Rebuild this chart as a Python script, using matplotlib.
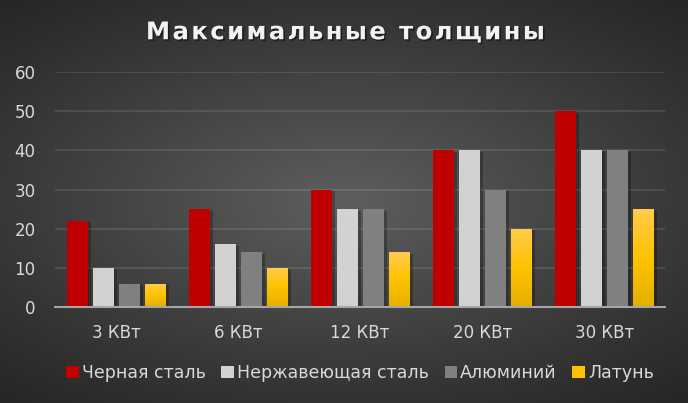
import numpy as np
import matplotlib.pyplot as plt
import matplotlib.patheffects as pe

# data
categories = ["3 КВт", "6 КВт", "12 КВт", "20 КВт", "30 КВт"]
series_names = ["Черная сталь", "Нержавеющая сталь", "Алюминий", "Латунь"]
black_steel = [22, 25, 30, 40, 50]
stainless = [10, 16, 25, 40, 40]
aluminium = [6, 14, 25, 30, 40]
brass = [6, 10, 14, 20, 25]
y_ticks = [0, 10, 20, 30, 40, 50, 60]

colors = ["#c00000", "#d3d1d2", "#808080", "#ffc000"]
text_col = "#d9d9d9"

plt.rcParams['font.family'] = ['DejaVu Sans']

fig = plt.figure(figsize=(6.88, 4.03), dpi=100)

# radial background gradient, light in the middle, dark in the corners
bg = fig.add_axes([0, 0, 1, 1])
yy, xx = np.mgrid[-1:1:200j, -1:1:340j]
r = np.sqrt((xx * 0.95) ** 2 + (yy * 1.1) ** 2) / 1.45
shade = 0.15 + 0.22 * np.clip(1 - r, 0, 1) ** 1.1
bg.imshow(np.dstack([shade] * 3), aspect='auto', extent=[0, 1, 0, 1])
bg.axis('off')

ax = fig.add_axes([0.08, 0.238, 0.887, 0.583])
ax.set_facecolor('none')

x = np.arange(len(categories))
width = 0.172
step = 0.213
all_values = [black_steel, stainless, aluminium, brass]
shadow = [pe.SimplePatchShadow(offset=(2.5, -1), shadow_rgbFace='black', alpha=0.25), pe.Normal()]

for i, (name, vals) in enumerate(zip(series_names, all_values)):
    pos = x + (i - 1.5) * step
    bars = ax.bar(pos, vals, width, color=colors[i], label=name, zorder=3)
    for b in bars:
        b.set_path_effects(shadow)
    if i == 3:
        # brass bars get a vertical gradient
        t = np.linspace(0, 1, 100)
        stops = np.array([[0.90, 0.69, 0.0], [1.0, 0.76, 0.0], [1.0, 0.80, 0.30]])
        rgb = np.empty((100, 1, 3))
        for c in range(3):
            rgb[:, 0, c] = np.interp(t, [0, 0.5, 1], stops[:, c])
        for b in bars:
            im = ax.imshow(rgb, aspect='auto', origin='lower', zorder=4,
                           extent=[b.get_x(), b.get_x() + b.get_width(), 0, b.get_height()])
            im.set_clip_path(b)

ax.set_xlim(-0.5, len(categories) - 0.5)
ax.set_ylim(0, 60)
ax.set_yticks(y_ticks)
ax.set_xticks(x)
ax.set_xticklabels(categories)
ax.tick_params(colors=text_col, labelsize=12, length=0)
ax.tick_params(axis='x', pad=12)
ax.tick_params(axis='y', pad=14)
ax.grid(axis='y', color='white', alpha=0.1, linewidth=1.5, zorder=0)
for s in ['top', 'right', 'left']:
    ax.spines[s].set_visible(False)
ax.spines['bottom'].set_color('#a6a6a6')
ax.spines['bottom'].set_linewidth(1.5)
ax.spines['bottom'].set_zorder(5)

title = "\u200a".join("Максимальные толщины")
fig.text(0.5, 0.92, title, ha='center', va='center', fontsize=17.5, fontweight='bold',
         color='#f2f2f2',
         path_effects=[pe.withSimplePatchShadow(offset=(1.2, -1.2), shadow_rgbFace='black', alpha=0.45)])

leg = ax.legend(loc='center', bbox_to_anchor=(0.5, -0.28), ncol=4, frameon=False,
                fontsize=12.5, handlelength=0.7, handleheight=0.7, handletextpad=0.2,
                columnspacing=0.9, labelcolor=text_col)
for h in leg.legend_handles:
    h.set_path_effects([])

fig.savefig("out.png", dpi=100)
